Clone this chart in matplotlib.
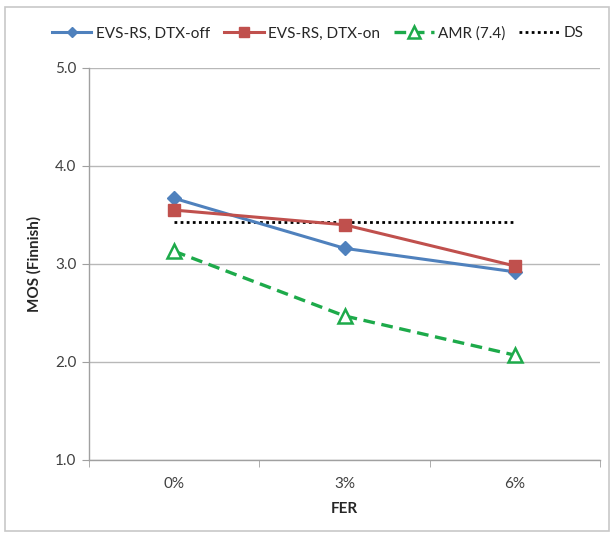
import matplotlib
matplotlib.use("Agg")
import matplotlib.pyplot as plt
from matplotlib.patches import Rectangle

plt.rcParams['font.family'] = ['Lato', 'DejaVu Sans']

categories = ["0%", "3%", "6%"]
evs_dtx_off = [3.67, 3.16, 2.92]
evs_dtx_on = [3.55, 3.40, 2.98]
amr_74 = [3.13, 2.47, 2.07]
ds_value = 3.43
y_ticks = [1.0, 2.0, 3.0, 4.0, 5.0]

fig = plt.figure(figsize=(6.11, 5.37), dpi=100)
ax = fig.add_axes([0.1457, 0.1434, 0.982 - 0.1457, 0.8734 - 0.1434])

x = list(range(len(categories)))
ax.plot(x, evs_dtx_off, color="#4F81BD", lw=2.2, marker="D", ms=7,
        label="EVS-RS, DTX-off", zorder=4)
ax.plot(x, evs_dtx_on, color="#C0504D", lw=2.2, marker="s", ms=9,
        label="EVS-RS, DTX-on", zorder=4)
ax.plot(x, amr_74, color="#1DAA4A", lw=2.4, ls=(0, (3.5, 2)), marker="^", ms=10,
        mfc="white", mec="#1DAA4A", mew=1.8, label="AMR (7.4)", zorder=5)
ax.plot([x[0], x[-1]], [ds_value, ds_value], color="black", lw=2, ls=(0, (1, 1.2)),
        label="DS", zorder=3)

ax.set_xlim(-0.5, len(categories) - 0.5)
ax.set_ylim(1.0, 5.0)
ax.set_yticks(y_ticks)
ax.set_yticklabels([f"{v:.1f}" for v in y_ticks])
ax.set_xticks(x)
ax.set_xticklabels(categories)
ax.set_xticks([i - 0.5 for i in range(len(categories) + 1)], minor=True)
ax.tick_params(axis='x', which='major', length=0, pad=12, labelsize=11, colors="#404040")
ax.tick_params(axis='x', which='minor', length=5, color="#A0A0A0", direction='out')
ax.tick_params(axis='y', length=5, color="#A0A0A0", labelsize=11, labelcolor="#404040", pad=4)
ax.grid(axis='y', color="#B8B8B8", lw=1)
ax.set_axisbelow(True)
for s in ["top", "right"]:
    ax.spines[s].set_visible(False)
for s in ["left", "bottom"]:
    ax.spines[s].set_color("#A0A0A0")
    ax.spines[s].set_linewidth(1)

ax.set_ylabel("MOS (Finnish)", fontsize=11, fontweight="bold", color="#262626", labelpad=10)
ax.set_xlabel("FER", fontsize=11, fontweight="bold", color="#262626", labelpad=8)

fig.legend(loc="center", bbox_to_anchor=(0.52, 0.938), ncol=4, frameon=False,
           fontsize=11, handlelength=2.6, columnspacing=0.9, handletextpad=0.3,
           markerscale=0.8, labelcolor="#262626")

fig.patches.append(Rectangle((0.008, 0.012), 0.988, 0.975, transform=fig.transFigure,
                             fill=False, edgecolor="#C8C8C8", lw=1.2))

fig.savefig("out.png", dpi=100)
